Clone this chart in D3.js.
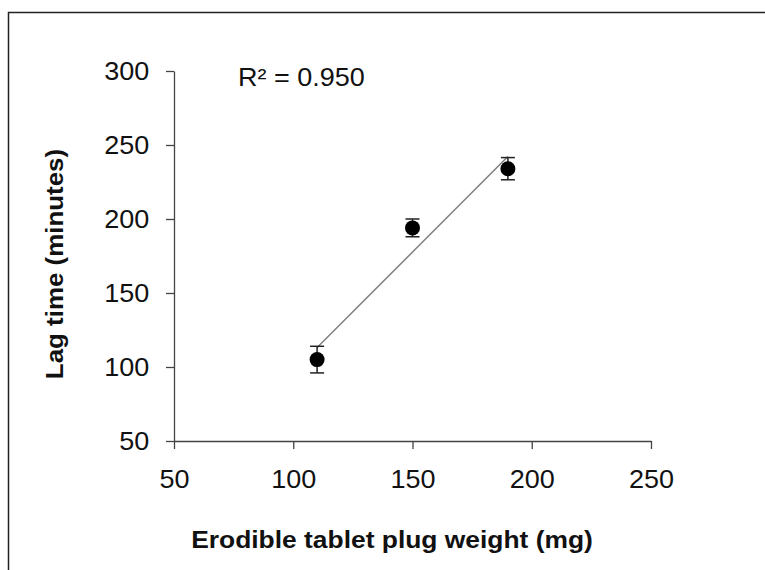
<!DOCTYPE html>
<html>
<head>
<meta charset="utf-8">
<script src="https://cdn.jsdelivr.net/npm/d3@7"></script>
<style>
  body { margin: 0; background: #fff; }
  text { font-family: "Liberation Sans", Arial, sans-serif; }
</style>
</head>
<body>
<div id="chart"></div>
<script>
// plug weight (mg), lag time (min) and error bar half-widths
const weights = [110, 150, 190];
const lagTimes = [105, 194, 234];
const lagErrors = [9, 6, 7.5];
const xTicks = [50, 100, 150, 200, 250];
const yTicks = [50, 100, 150, 200, 250, 300];
const r2Label = "R\u00b2 = 0.950";

const width = 765, height = 570;
const stretch = 1.08; // chữ trong ảnh gốc hơi bị kéo giãn ngang
const svg = d3.select('#chart').append('svg')
    .attr('width', width)
    .attr('height', height);

// khung ngoài (chỉ thấy cạnh trái và cạnh trên)
svg.append('path')
    .attr('d', `M8.5,${height} L8.5,12.5 L${width},12.5`)
    .attr('fill', 'none')
    .attr('stroke', '#222')
    .attr('stroke-width', 1.5);

const x = d3.scaleLinear().domain([50, 250]).range([174, 651]);
const y = d3.scaleLinear().domain([50, 300]).range([441, 71]);

// trục x
const gx = svg.append('g')
    .attr('transform', `translate(0,${y(50)})`)
    .call(d3.axisBottom(x).tickValues(xTicks).tickSize(8).tickPadding(21).tickSizeOuter(0));
// trục y
const gy = svg.append('g')
    .attr('transform', `translate(${x(50)},0)`)
    .call(d3.axisLeft(y).tickValues(yTicks).tickSize(8).tickPadding(15).tickSizeOuter(0));

[gx, gy].forEach(g => {
    g.select('.domain').attr('stroke', '#444').attr('stroke-width', 1.3);
    g.selectAll('.tick line').attr('stroke', '#444').attr('stroke-width', 1.3);
    g.selectAll('.tick text')
        .attr('fill', '#111')
        .attr('font-size', '25px')
        .attr('transform', `scale(${stretch},1)`)
        .style('font-family', '"Liberation Sans", Arial, sans-serif');
});

// đường hồi quy tuyến tính
const mx = d3.mean(weights), my = d3.mean(lagTimes);
const slope = d3.sum(weights, (w, i) => (w - mx) * (lagTimes[i] - my)) /
    d3.sum(weights, w => (w - mx) * (w - mx));
const icpt = my - slope * mx;
const x0 = d3.min(weights), x1 = d3.max(weights);
svg.append('line')
    .attr('x1', x(x0)).attr('y1', y(icpt + slope * x0))
    .attr('x2', x(x1)).attr('y2', y(icpt + slope * x1))
    .attr('stroke', '#808080')
    .attr('stroke-width', 1.5);

const pts = weights.map((w, i) => ({ w, t: lagTimes[i], e: lagErrors[i] }));

// thanh sai số
const eb = svg.append('g').attr('stroke', '#222').attr('stroke-width', 1.5);
pts.forEach(d => {
    eb.append('line').attr('x1', x(d.w)).attr('x2', x(d.w)).attr('y1', y(d.t - d.e)).attr('y2', y(d.t + d.e));
    eb.append('line').attr('x1', x(d.w) - 7).attr('x2', x(d.w) + 7).attr('y1', y(d.t - d.e)).attr('y2', y(d.t - d.e));
    eb.append('line').attr('x1', x(d.w) - 7).attr('x2', x(d.w) + 7).attr('y1', y(d.t + d.e)).attr('y2', y(d.t + d.e));
});

// điểm dữ liệu
svg.append('g').selectAll('circle')
    .data(pts)
    .enter()
    .append('circle')
    .attr('cx', d => x(d.w))
    .attr('cy', d => y(d.t))
    .attr('r', 7.5)
    .attr('fill', '#000');

svg.append('text')
    .attr('transform', `translate(238,86) scale(${stretch},1)`)
    .attr('font-size', '25px')
    .attr('fill', '#111')
    .text(r2Label);

// nhãn trục
svg.append('text')
    .attr('transform', `translate(392,548) scale(1.1,1)`)
    .attr('text-anchor', 'middle')
    .attr('font-size', '24px')
    .attr('font-weight', 'bold')
    .attr('fill', '#111')
    .text('Erodible tablet plug weight (mg)');

svg.append('text')
    .attr('transform', `translate(63,264) rotate(-90) scale(1.08,1)`)
    .attr('text-anchor', 'middle')
    .attr('font-size', '24px')
    .attr('font-weight', 'bold')
    .attr('fill', '#111')
    .text('Lag time (minutes)');
</script>
</body>
</html>
